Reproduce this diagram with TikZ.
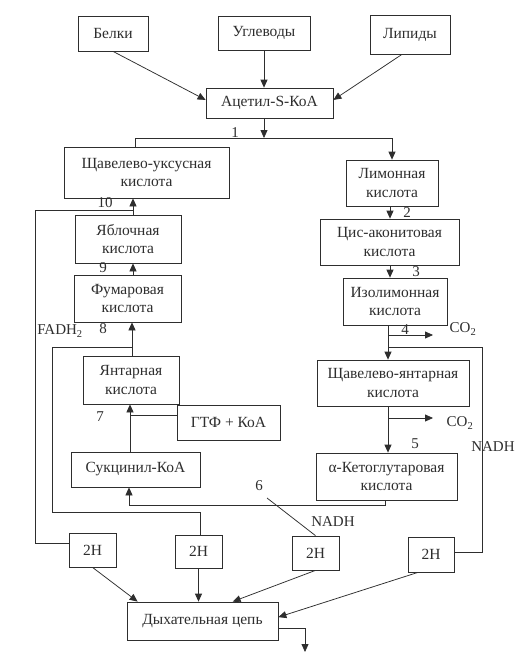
\documentclass[tikz,border=0pt]{standalone}
\usepackage{fontspec}
\setmainfont{Liberation Serif}
\usetikzlibrary{arrows.meta,calc}
\definecolor{ink}{HTML}{2E2E2E}
\begin{document}
\begin{tikzpicture}[x=1pt,y=-1pt,
  box/.style={draw=ink, line width=0.75pt, inner sep=0pt, align=center, text=ink, font=\fontsize{15.5}{18.5}\selectfont},
  lbl/.style={text=ink, inner sep=0pt, font=\fontsize{15}{17}\selectfont},
  con/.style={draw=ink, line width=0.75pt},
  arr/.style={con, -{Triangle[length=8pt,width=7pt]}},
]
\fill[white] (0,0) rectangle (523,667);
\useasboundingbox (0,0) rectangle (523,667);

% boxes
\node[box,minimum width=70pt,minimum height=35pt] (belki) at (113,33.5) {Белки};
\node[box,minimum width=92pt,minimum height=34pt] (ugl) at (264,33) {Углеводы};
\node[box,minimum width=80pt,minimum height=39pt] (lip) at (410,34.5) {Липиды};
\node[box,minimum width=127pt,minimum height=30pt] (acet) at (269.5,103) {Ацетил-S-КоА};
\node[box,minimum width=165pt,minimum height=51pt] (shuk) at (146.5,172.5) {Щавелево-уксусная\\кислота};
\node[box,minimum width=92pt,minimum height=46pt] (limon) at (392,183) {Лимонная\\кислота};
\node[box,minimum width=139pt,minimum height=46pt] (cis) at (389.5,242) {Цис-аконитовая\\кислота};
\node[box,minimum width=104pt,minimum height=47pt] (izo) at (395,301.5) {Изолимонная\\кислота};
\node[box,minimum width=152pt,minimum height=46pt] (shyant) at (393,383) {Щавелево-янтарная\\кислота};
\node[box,minimum width=141pt,minimum height=47pt] (keto) at (386.5,476.5) {α-Кетоглутаровая\\кислота};
\node[box,minimum width=106pt,minimum height=48pt] (yabl) at (128,239) {Яблочная\\кислота};
\node[box,minimum width=107pt,minimum height=47pt] (fum) at (127.5,298.5) {Фумаровая\\кислота};
\node[box,minimum width=96pt,minimum height=48pt] (yant) at (131,380) {Янтарная\\кислота};
\node[box,minimum width=103pt,minimum height=35pt] (gtf) at (228.5,422.5) {ГТФ + КоА};
\node[box,minimum width=129pt,minimum height=35pt] (sukc) at (135.5,469.5) {Сукцинил-КоА};
\node[box,minimum width=47pt,minimum height=34pt] (h1) at (92.5,550) {2H};
\node[box,minimum width=47pt,minimum height=33pt] (h2) at (198.5,551.5) {2H};
\node[box,minimum width=47pt,minimum height=34pt] (h3) at (315.5,553) {2H};
\node[box,minimum width=46pt,minimum height=35pt] (h4) at (431,554.5) {2H};
\node[box,minimum width=151pt,minimum height=38pt] (resp) at (202.5,621) {Дыхательная цепь};

% labels
\node[lbl] (n1) at (235,133) {1};
\node[lbl] (n2) at (407,213) {2};
\node[lbl] (n3) at (416,272) {3};
\node[lbl] (n4) at (405,330) {4};
\node[lbl] (co2a) at (463,329) {CO\textsubscript{2}};
\node[lbl] (n5) at (415,444) {5};
\node[lbl] (co2b) at (460,423) {CO\textsubscript{2}};
\node[lbl] (nadh1) at (493,447) {NADH};
\node[lbl] (n6) at (259,486) {6};
\node[lbl] (nadh2) at (333,522) {NADH};
\node[lbl] (n7) at (100,417) {7};
\node[lbl] (n8) at (103,329) {8};
\node[lbl] (fadh) at (60,331) {FADH\textsubscript{2}};
\node[lbl] (n9) at (103,268) {9};
\node[lbl] (n10) at (105,203) {10};

% top inputs
\draw[arr] (belki.south) -- ($(acet.north west)!0.4!(acet.south west)$);
\draw[arr] (ugl.south) -- (ugl.south |- acet.north);
\draw[arr] ($(lip.south)+(-8,0)$) -- ($(acet.north east)!0.4!(acet.south east)$);

% step 1
\coordinate (j1) at (264,138);
\coordinate (jl) at (135,138);
\coordinate (jr) at (392,138);
\draw[arr] (acet.south -| j1) -- (j1);
\draw[con] (jl |- shuk.north) -- (jl) -- (jr);
\draw[arr] (jr) -- (jr |- limon.north);

% right column
\coordinate (xa) at (390,0);
\coordinate (xb) at (388,0);
\draw[arr] (limon.south -| xa) -- (cis.north -| xa);
\draw[arr] (cis.south -| xa) -- (izo.north -| xa);
\draw[arr] (izo.south -| xb) -- (shyant.north -| xb);
\coordinate (c4) at (388,335);
\coordinate (c4e) at (433,335);
\draw[arr] (c4) -- (c4e);
\coordinate (c5) at (388,347);
\coordinate (r1) at (482,347);
\coordinate (r2) at (482,552);
\draw[con] (c5) -- (r1) -- (r2) -- (r2 -| h4.east);
\draw[arr] (shyant.south -| xb) -- (keto.north -| xb);
\coordinate (c6) at (388,418);
\coordinate (c6e) at (433,418);
\draw[arr] (c6) -- (c6e);

% keto -> succinyl
\coordinate (k1) at (385,505);
\coordinate (k2) at (129,505);
\draw[arr] (keto.south -| k1) -- (k1) -- (k2) -- (sukc.south -| k2);
\coordinate (d6) at (267,498);
\draw[con] (d6) -- (h3.north);

% left column
\coordinate (x7) at (130,0);
\draw[arr] (sukc.north -| x7) -- (yant.south -| x7);
\coordinate (g1) at ($(gtf.north west)!0.3!(gtf.south west)$);
\draw[con] (g1) -- (g1 -| x7);
\coordinate (x8) at (132,0);
\draw[arr] (yant.north -| x8) -- (fum.south -| x8);
\coordinate (f1) at (132,347);
\coordinate (f2) at (52,347);
\coordinate (f3) at (52,512);
\coordinate (f4) at (200,512);
\draw[con] (f1) -- (f2) -- (f3) -- (f4) -- (f4 |- h2.north);
\coordinate (x9) at (133,0);
\draw[arr] (fum.north -| x9) -- (yabl.south -| x9);
\draw[arr] (yabl.north -| x9) -- (shuk.south -| x9);
\coordinate (t1) at (133,210);
\coordinate (t2) at (35,210);
\coordinate (t3) at ($(h1.north west)!0.3!(h1.south west)$);
\draw[con] (t1) -- (t2) -- (t2 |- t3) -- (t3);

% to respiratory chain
\draw[arr] (h1.south) -- ($(resp.north west)+(11,0)$);
\draw[arr] (h2.south) -- (h2.south |- resp.north);
\draw[arr] (h3.south) -- ($(resp.north west)+(106,0)$);
\draw[arr] ($(h4.south)+(-13,0)$) -- ($(resp.north east)!0.4!(resp.south east)$);
\coordinate (o1) at ($(resp.north east)!0.68!(resp.south east)$);
\coordinate (o2) at (305,628);
\coordinate (o3) at (305,652);
\draw[arr] (o1) -- (o1 -| o2) -- (o3);
\end{tikzpicture}
\end{document}
